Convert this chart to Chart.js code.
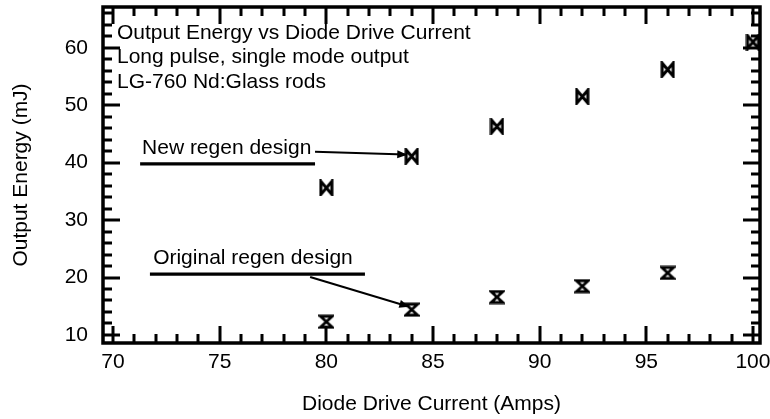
<!DOCTYPE html>
<html>
<head>
<meta charset="utf-8">
<script src="https://cdn.jsdelivr.net/npm/chart.js@4/dist/chart.umd.min.js"></script>
<style>
  html, body { margin: 0; padding: 0; background: #fff; }
  #wrap { width: 770px; height: 419px; }
</style>
</head>
<body>
<div id="wrap"><canvas id="chart"></canvas></div>
<script>
// values
const xTicks = [70, 75, 80, 85, 90, 95, 100];
const yTicks = [10, 20, 30, 40, 50, 60];

const newCurrent = [80, 84, 88, 92, 96, 100];
const newEnergy = [35.6, 41.1, 46.3, 51.5, 56.2, 61.0];

const origCurrent = [80, 84, 88, 92, 96];
const origEnergy = [12.3, 14.4, 16.6, 18.5, 20.8];

const noteLines = [
  'Output Energy vs Diode Drive Current',
  'Long pulse, single mode output',
  'LG-760 Nd:Glass rods'
];

// callouts, in data units: label position, underline, leader line
const newLabel = { text: 'New regen design', x: 71.36, y: 42.6, under: [71.27, 79.47, 39.8], lead: [79.47, 41.9, 83.7, 41.4] };
const origLabel = { text: 'Original regen design', x: 71.88, y: 23.4, under: [71.73, 81.81, 20.6], lead: [79.24, 20.1, 83.8, 15.0] };

const FONT = '"Liberation Sans", Arial, Helvetica, sans-serif';
const FSIZE = 21;

// markers drawn once on small canvases and handed to chart.js as pointStyle
function bowtie() {
  const c = document.createElement('canvas');
  c.width = 15; c.height = 17;
  const g = c.getContext('2d');
  g.strokeStyle = '#000';
  g.lineWidth = 3;
  g.beginPath();
  g.moveTo(2, 2); g.lineTo(13, 15); g.lineTo(13, 2); g.lineTo(2, 15); g.closePath();
  g.stroke();
  return c;
}
function hourglass() {
  const c = document.createElement('canvas');
  c.width = 16; c.height = 15;
  const g = c.getContext('2d');
  g.strokeStyle = '#000';
  g.lineWidth = 2.8;
  g.beginPath();
  g.moveTo(2, 2); g.lineTo(14, 2); g.lineTo(2, 13); g.lineTo(14, 13); g.closePath();
  g.stroke();
  return c;
}

const frame = {
  id: 'frame',
  afterDraw(chart) {
    const ctx = chart.ctx;
    const xs = chart.scales.x, ys = chart.scales.y;
    const a = chart.chartArea;
    ctx.save();
    ctx.strokeStyle = '#000';
    ctx.fillStyle = '#000';

    // inward ticks on all four sides
    ctx.lineWidth = 3;
    ctx.beginPath();
    for (let v = 70; v <= 100; v++) {
      const len = v % 5 === 0 ? 17 : 9;
      const px = Math.round(xs.getPixelForValue(v));
      ctx.moveTo(px, a.bottom); ctx.lineTo(px, a.bottom - len);
      ctx.moveTo(px, a.top); ctx.lineTo(px, a.top + len);
    }
    for (let v = 10; v <= 66; v += 2) {
      const len = v % 10 === 0 ? 17 : 9;
      const py = Math.round(ys.getPixelForValue(v));
      ctx.moveTo(a.left, py); ctx.lineTo(a.left + len, py);
      ctx.moveTo(a.right, py); ctx.lineTo(a.right - len, py);
    }
    ctx.stroke();

    ctx.lineWidth = 3.5;
    ctx.strokeRect(a.left, a.top, a.right - a.left, a.bottom - a.top);

    // notes
    ctx.font = FSIZE + 'px ' + FONT;
    ctx.textBaseline = 'middle';
    ctx.textAlign = 'left';
    noteLines.forEach((t, i) => ctx.fillText(t, a.left + 14, a.top + 26 + i * 24.5));

    [newLabel, origLabel].forEach(l => {
      ctx.fillText(l.text, xs.getPixelForValue(l.x), ys.getPixelForValue(l.y));
      ctx.lineWidth = 3.2;
      ctx.beginPath();
      ctx.moveTo(xs.getPixelForValue(l.under[0]), ys.getPixelForValue(l.under[2]));
      ctx.lineTo(xs.getPixelForValue(l.under[1]), ys.getPixelForValue(l.under[2]));
      ctx.stroke();
      const x0 = xs.getPixelForValue(l.lead[0]), y0 = ys.getPixelForValue(l.lead[1]);
      const x1 = xs.getPixelForValue(l.lead[2]), y1 = ys.getPixelForValue(l.lead[3]);
      ctx.lineWidth = 2;
      ctx.beginPath();
      ctx.moveTo(x0, y0); ctx.lineTo(x1, y1);
      ctx.stroke();
      // small arrow head
      const ang = Math.atan2(y1 - y0, x1 - x0);
      ctx.beginPath();
      ctx.moveTo(x1 + 2 * Math.cos(ang), y1 + 2 * Math.sin(ang));
      ctx.lineTo(x1 - 8 * Math.cos(ang) + 4 * Math.sin(ang), y1 - 8 * Math.sin(ang) - 4 * Math.cos(ang));
      ctx.lineTo(x1 - 8 * Math.cos(ang) - 4 * Math.sin(ang), y1 - 8 * Math.sin(ang) + 4 * Math.cos(ang));
      ctx.closePath();
      ctx.fill();
    });
    ctx.restore();
  }
};

const ctx = document.getElementById('chart').getContext('2d');
const chart = new Chart(ctx, {
  type: 'scatter',
  data: {
    datasets: [
      {
        label: 'New regen design',
        data: newCurrent.map((x, i) => ({ x: x, y: newEnergy[i] })),
        pointStyle: bowtie(),
        pointRadius: 6,
        clip: false
      },
      {
        label: 'Original regen design',
        data: origCurrent.map((x, i) => ({ x: x, y: origEnergy[i] })),
        pointStyle: hourglass(),
        pointRadius: 6,
        clip: false
      }
    ]
  },
  options: {
    responsive: true,
    maintainAspectRatio: false,
    animation: false,
    devicePixelRatio: 1,
    layout: { padding: { left: 0, right: 10, top: 7, bottom: 0 } },
    plugins: { legend: { display: false }, tooltip: { enabled: false } },
    scales: {
      x: {
        type: 'linear',
        min: 69.53,
        max: 100.33,
        afterBuildTicks: s => { s.ticks = xTicks.map(v => ({ value: v })); },
        afterFit: s => { s.height = 76; s.paddingLeft = 0; s.paddingRight = 0; },
        grid: { display: false, drawTicks: false },
        border: { display: false },
        ticks: { color: '#000', padding: 7, maxRotation: 0, font: { family: FONT, size: FSIZE } },
        title: {
          display: true,
          text: 'Diode Drive Current (Amps)',
          color: '#000',
          font: { family: FONT, size: FSIZE },
          padding: { top: 0, bottom: 2 }
        }
      },
      y: {
        type: 'linear',
        min: 8.6,
        max: 67.1,
        afterBuildTicks: s => { s.ticks = yTicks.map(v => ({ value: v })); },
        afterFit: s => { s.width = 103; s.paddingTop = 0; s.paddingBottom = 0; },
        grid: { display: false, drawTicks: false },
        border: { display: false },
        ticks: { color: '#000', padding: 15, font: { family: FONT, size: FSIZE } },
        title: {
          display: true,
          text: 'Output Energy (mJ)',
          color: '#000',
          font: { family: FONT, size: FSIZE },
          padding: { top: 9, bottom: 0 }
        }
      }
    }
  },
  plugins: [frame]
});
</script>
</body>
</html>
